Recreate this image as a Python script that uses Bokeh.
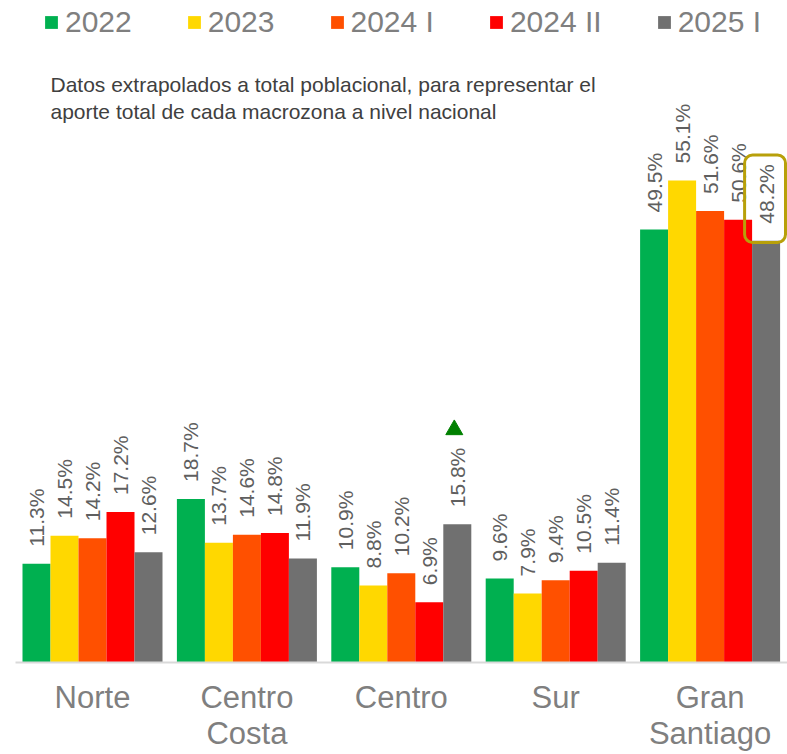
import numpy as np
from bokeh.plotting import figure
from bokeh.models import Range1d, FixedTicker, Legend, LegendItem, Label, BoxAnnotation, ColumnDataSource
from bokeh.core.properties import value
from bokeh.embed import file_html
from bokeh.resources import INLINE

# ---------------- data ----------------
zones = ["Norte", "Centro\nCosta", "Centro", "Sur", "Gran\nSantiago"]
periods = ["2022", "2023", "2024 I", "2024 II", "2025 I"]
v2022 = [11.3, 18.7, 10.9, 9.6, 49.5]
v2023 = [14.5, 13.7, 8.8, 7.9, 55.1]
v2024_1 = [14.2, 14.6, 10.2, 9.4, 51.6]
v2024_2 = [17.2, 14.8, 6.9, 10.5, 50.6]
v2025_1 = [12.6, 11.9, 15.8, 11.4, 48.2]
series = [v2022, v2023, v2024_1, v2024_2, v2025_1]
colors = ["#00B050", "#FFD800", "#FF5000", "#FF0000", "#707070"]
note = ("Datos extrapolados a total poblacional, para representar el\n"
        "aporte total de cada macrozona a nivel nacional")
highlight_zone = 2      # Centro, 2025 I -> green up triangle
boxed_zone = 4          # Gran Santiago, 2025 I -> framed label

# ---------------- layout ----------------
FONT = "Liberation Sans"
GROUP_PX = 154.4
BAR_W = 28.0 / GROUP_PX
W, H = 787, 754
FRAME_LEFT = 15
BOTTOM = 92
FRAME_W = W - FRAME_LEFT
FRAME_H = H - BOTTOM
PX_PER_UNIT = 8.75
x0 = (FRAME_LEFT - 92) / GROUP_PX
x1 = x0 + FRAME_W / GROUP_PX
y1 = FRAME_H / PX_PER_UNIT

p = figure(width=W, height=H, output_backend="svg", toolbar_location=None,
           x_range=Range1d(x0, x1), y_range=Range1d(0, y1),
           min_border_left=FRAME_LEFT, min_border_right=0, min_border_top=0,
           min_border_bottom=BOTTOM)
p.outline_line_color = None
p.grid.visible = False
p.yaxis.visible = False

xs = np.arange(len(zones))
renderers = []
for k, (vals, col) in enumerate(zip(series, colors)):
    off = (k - 2) * BAR_W
    src = ColumnDataSource(dict(x=xs + off, top=vals,
                                lab=[f"{v:.1f}%" for v in vals]))
    r = p.vbar(x="x", top="top", width=BAR_W, bottom=0, source=src,
               fill_color=col, line_color=None)
    renderers.append(r)
    p.text(x="x", y="top", text="lab", source=src, angle=np.pi / 2,
           text_align="left", text_baseline="middle", y_offset=-17,
           text_font=value(FONT), text_font_size="21px", text_color="#5F5F5F")

# green triangle above Centro 2025 I
gx = highlight_zone + 2 * BAR_W - 3.0 / GROUP_PX
p.scatter(x=[gx], y=[v2025_1[highlight_zone] + 10.8], marker="triangle",
          size=17, fill_color="#008000", line_color="#008000")

# framed label Gran Santiago 2025 I
bx = boxed_zone + 2 * BAR_W
box = BoxAnnotation(left=bx - 21.5 / GROUP_PX, right=x1 - 2.0 / GROUP_PX,
                    bottom=v2025_1[boxed_zone] - 0.2, top=v2025_1[boxed_zone] + 9.8,
                    fill_alpha=0, line_color="#B8A00A", line_alpha=1.0,
                    line_width=3, border_radius=8)
p.add_layout(box)

# x axis
ax = p.xaxis[0]
ax.ticker = FixedTicker(ticks=list(xs))
ax.major_label_overrides = {int(i): z for i, z in zip(xs, zones)}
ax.axis_line_color = "#D9D9D9"
ax.axis_line_width = 2
ax.major_tick_line_color = None
ax.minor_tick_line_color = None
ax.major_tick_out = 0
ax.major_tick_in = 0
ax.major_label_standoff = 17
ax.major_label_text_font = FONT
ax.major_label_text_font_size = "31px"
ax.major_label_text_color = "#7F7F7F"
ax.major_label_text_line_height = 1.05

# note
p.add_layout(Label(x=35, y=FRAME_H - 72, x_units="screen", y_units="screen",
                   text=note, text_font=FONT, text_font_size="21px",
                   text_color="#404040", text_baseline="top",
                   text_line_height=1.2))

# legend
legend = Legend(items=[LegendItem(label=lab, renderers=[r]) for lab, r in zip(periods, renderers)],
                orientation="horizontal", location=(28, FRAME_H - 39),
                glyph_width=16, glyph_height=16, label_standoff=6, spacing=54,
                label_text_font=FONT, label_text_font_size="30px",
                label_text_color="#7F7F7F", margin=0, padding=0,
                border_line_color=None, background_fill_alpha=0)
p.add_layout(legend)

open("out.html", "w").write(file_html(p, INLINE))
